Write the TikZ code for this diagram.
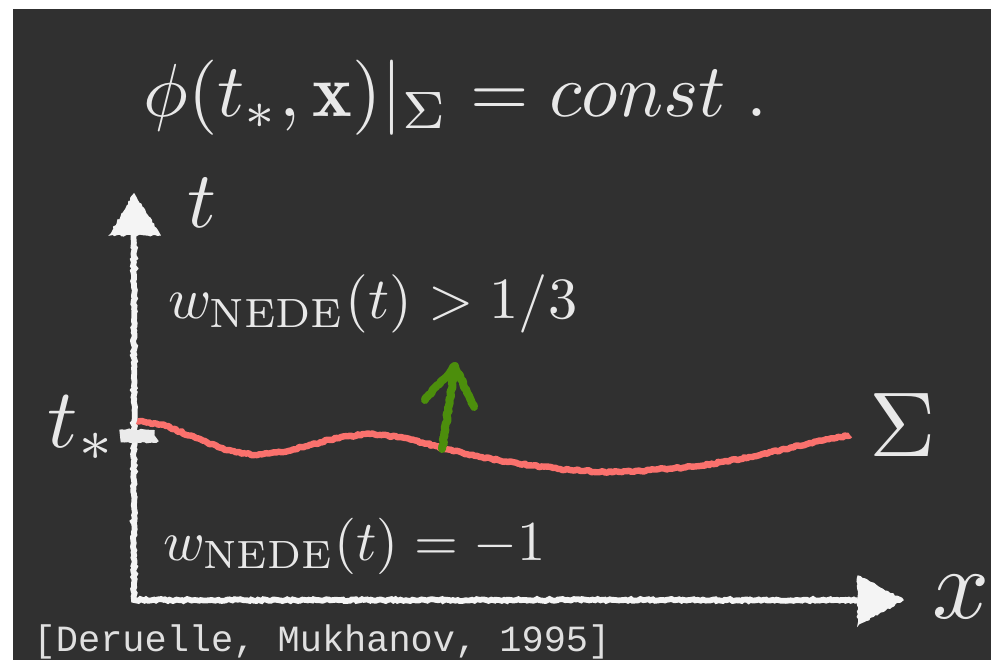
\documentclass[tikz,border=0pt]{standalone}
\usepackage{fontspec}
\setmonofont{Liberation Mono}
\usetikzlibrary{decorations.pathmorphing}
\definecolor{board}{HTML}{303030}
\definecolor{chalkw}{HTML}{F4F4F4}
\definecolor{txt}{HTML}{E8E8E8}
\definecolor{salmon}{HTML}{FA716D}
\definecolor{leaf}{HTML}{4C8E0C}
\begin{document}
\begin{tikzpicture}[x=0.25pt,y=-0.25pt,
  chalk/.style={decorate,decoration={random steps,segment length=0.6pt,amplitude=0.25pt}},
  axisline/.style={chalk,draw=chalkw,line width=1.45pt},
  headfill/.style={chalk,fill=chalkw,draw=chalkw,line width=0.3pt},
  lbl/.style={text=txt,inner sep=0pt,anchor=base west}]
\useasboundingbox (0,0) rectangle (991,660);
\fill[white] (0,0) rectangle (991,660);
\fill[board] (13,9) rectangle (991,660);

% coordinates
\coordinate (O) at (134,600);
\coordinate (Ytip) at (134,194);
\coordinate (Ybase) at (134,234);
\coordinate (Xtip) at (903,600);
\coordinate (Xbase) at (858,600);

% axes
\draw[axisline] (Ybase) -- (O) -- (Xbase);
\path[headfill] (Ytip) -- (110,235) -- (160,235) -- cycle;
\path[headfill] (Xtip) -- (858,576) -- (858,625) -- cycle;

% tick at t_*
\coordinate (tickL) at (120,436);
\coordinate (tickR) at (155,436);
\draw[chalk,draw=chalkw!92!gray,line width=3.2pt] (tickL) -- (tickR);

% surface Sigma
\draw[chalk,draw=salmon,line width=1.6pt,line join=round]
  (137,421) -- (166,426) -- (196,438) -- (225,450) -- (255,455) -- (284,452)
  -- (312,444.5) -- (341,437) -- (370,434) -- (406,438) -- (442,448) -- (480,457)
  -- (520,464) -- (560,469) -- (600,472) -- (640,471) -- (700,466) -- (760,455)
  -- (810,443) -- (850,435);

% green arrow
\coordinate (gBot) at (442,449);
\coordinate (gTop) at (455,366);
\draw[chalk,draw=leaf,line width=2pt,line cap=round,line join=round] (gBot) -- (gTop);
\draw[chalk,draw=leaf,line width=2pt,line cap=round,line join=round] (425,400) -- (gTop) -- (474,407);

% texts
\node[lbl,scale=1.88] (eq) at (142,117) {$\phi(t_*,\mathbf{x})|_{\Sigma} = const\;.$};
\node[lbl,scale=2.0] (tlab) at (186,228) {$t$};
\node[lbl,scale=1.46] (wup) at (167,319) {$w_{\mathrm{NEDE}}(t) > 1/3$};
\node[lbl,scale=2.1] (tstar) at (46,448) {$t_*$};
\node[lbl,scale=2.3] (sig) at (868,457) {$\Sigma$};
\node[lbl,scale=1.41] (wdown) at (162,560) {$w_{\mathrm{NEDE}}(t) = -1$};
\node[lbl,scale=2.5] (xlab) at (930,618) {$x$};
\node[lbl,scale=0.924,text=txt!92!gray] (cite) at (33,651) {\ttfamily [Deruelle, Mukhanov, 1995]};
\end{tikzpicture}
\end{document}
